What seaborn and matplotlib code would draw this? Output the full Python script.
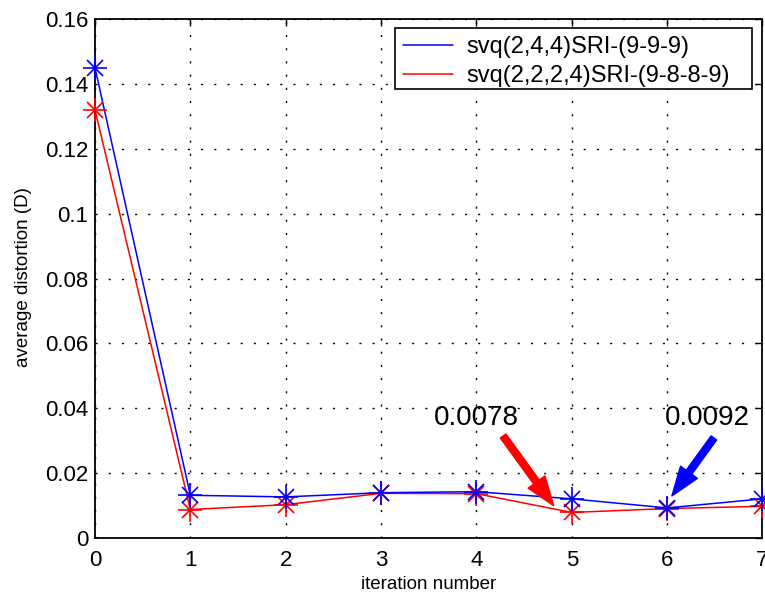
import matplotlib
matplotlib.use("Agg")
import matplotlib.pyplot as plt
import seaborn as sns
import pandas as pd
from matplotlib.lines import Line2D
from matplotlib.patches import Rectangle

iterations = [0, 1, 2, 3, 4, 5, 6, 7]
blue_vals = [0.145, 0.0131, 0.0126, 0.0139, 0.0142, 0.0120, 0.0092, 0.0120]
red_vals = [0.132, 0.0087, 0.0102, 0.0137, 0.0136, 0.0078, 0.0090, 0.0097]
series_names = ["svq(2,4,4)SRI-(9-9-9)", "svq(2,2,2,4)SRI-(9-8-8-9)"]
y_ticks = [0, 0.02, 0.04, 0.06, 0.08, 0.1, 0.12, 0.14, 0.16]
y_tick_labels = ["0", "0.02", "0.04", "0.06", "0.08", "0.1", "0.12", "0.14", "0.16"]

df = pd.DataFrame({
    "iteration": iterations * 2,
    "distortion": blue_vals + red_vals,
    "series": [series_names[0]] * len(iterations) + [series_names[1]] * len(iterations),
})

sns.set_style("white")
plt.rcParams["font.family"] = ["Liberation Sans", "DejaVu Sans"]
plt.rcParams["text.color"] = "black"
plt.rcParams["axes.labelcolor"] = "black"

fig = plt.figure(figsize=(7.65, 5.97), dpi=100)
ax = fig.add_axes([0.1242, 0.0993, 0.8725, 0.8683])

palette = {series_names[0]: "blue", series_names[1]: "red"}
sns.lineplot(data=df, x="iteration", y="distortion", hue="series",
             palette=palette, hue_order=series_names[::-1], ax=ax,
             linewidth=1.1, legend=False)
for line in ax.get_lines():
    line.set_clip_on(False)

# MATLAB-style '*' markers (plus + cross)
for vals, col in [(red_vals, "red"), (blue_vals, "blue")]:
    ax.plot(iterations, vals, linestyle="none", marker="x", markersize=12,
            markeredgecolor=col, markeredgewidth=1.2, clip_on=False, zorder=3)
    ax.plot(iterations, vals, linestyle="none", marker="+", markersize=17,
            markeredgecolor=col, markeredgewidth=1.2, clip_on=False, zorder=3)

# legend frame drawn as a plain box
ax.add_patch(Rectangle((0.4494, 0.8656), 0.5349, 0.1176, transform=ax.transAxes,
                       facecolor="white", edgecolor="black", linewidth=1.2, zorder=4))
handles = [Line2D([0], [0], color="blue", lw=1.1), Line2D([0], [0], color="red", lw=1.1)]
leg = ax.legend(handles, series_names, loc="upper left", bbox_to_anchor=(0.462, 0.968),
                borderaxespad=0, fontsize=17, frameon=False, handlelength=2.1,
                borderpad=0, labelspacing=0.3, handletextpad=0.55)
leg.set_zorder(5)

ax.set_xlim(0, 7)
ax.set_ylim(0, 0.16)
ax.set_xticks(iterations)
ax.set_yticks(y_ticks)
ax.set_yticklabels(y_tick_labels)
ax.tick_params(direction="in", length=5, width=1, labelsize=16, top=True, right=True,
               colors="black")
ax.tick_params(axis="x", pad=9)
ax.tick_params(axis="y", pad=5)
ax.grid(True, linestyle=(0, (1.5, 8)), color="black", linewidth=1)
for s in ax.spines.values():
    s.set_color("black")
    s.set_linewidth(1.3)
ax.set_xlabel("iteration number", fontsize=13.5, labelpad=3.5)
ax.set_ylabel("average distortion (D)", fontsize=13.5)
ax.yaxis.set_label_coords(-0.095, 0.503)

ax.annotate("", xy=(4.81, 0.0099), xytext=(4.28, 0.0314),
            arrowprops=dict(facecolor="red", edgecolor="red", width=5, headwidth=15, headlength=21))
ax.text(4.0, 0.0368, "0.0078", fontsize=20, ha="center", va="center")
ax.annotate("", xy=(6.05, 0.0129), xytext=(6.49, 0.0308),
            arrowprops=dict(facecolor="blue", edgecolor="blue", width=5, headwidth=15, headlength=21))
ax.text(6.42, 0.0368, "0.0092", fontsize=20, ha="center", va="center")

fig.savefig("out.png", dpi=100)
